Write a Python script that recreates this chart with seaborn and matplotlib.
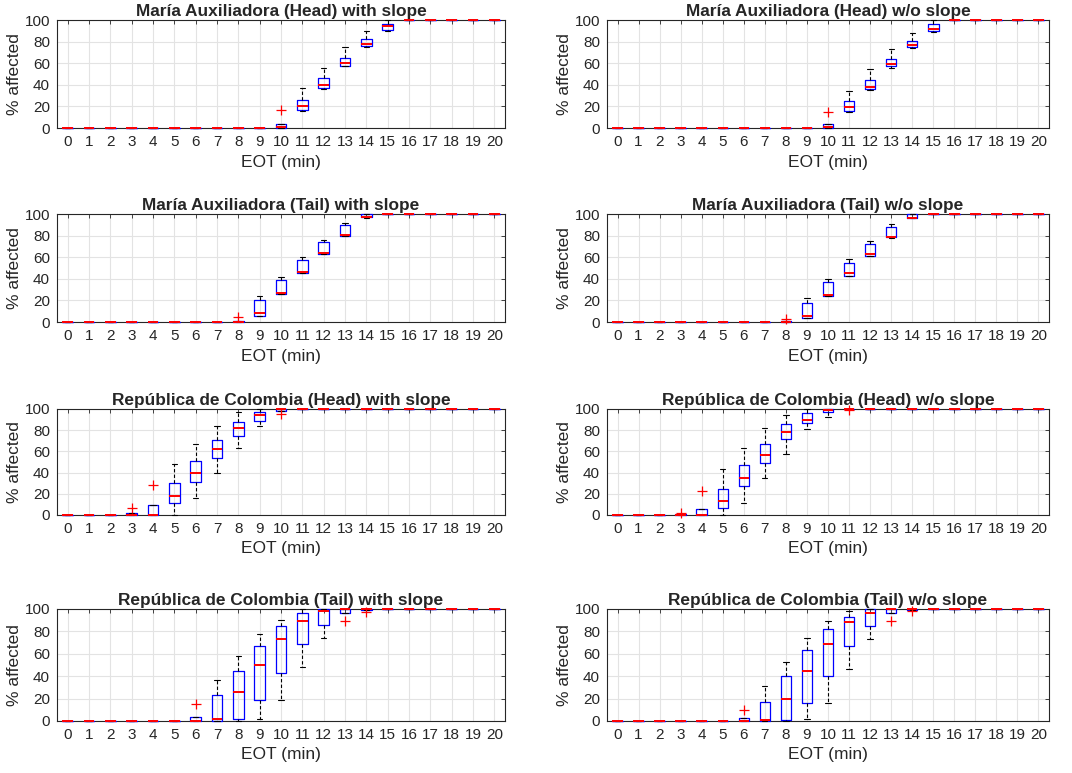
import numpy as np
import pandas as pd
import seaborn as sns
import matplotlib
matplotlib.use('Agg')
import matplotlib.pyplot as plt

# EOT in Minuten (Kategorien der x-Achse)
eot = list(range(21))

# Boxplot-Kennwerte je Panel: unterer Whisker, Q1, Median, Q3, oberer Whisker
# María Auxiliadora (Head) with slope
mah_s_lo  = [0,0,0,0,0,0,0,0,0,0, 0,16,36,57,75,90, 100,100,100,100,100]
mah_s_q1  = [0,0,0,0,0,0,0,0,0,0, 0,17,37,57,76,91, 100,100,100,100,100]
mah_s_med = [0,0,0,0,0,0,0,0,0,0, 1,20,40,60,78,94, 100,100,100,100,100]
mah_s_q3  = [0,0,0,0,0,0,0,0,0,0, 4,26,46,65,82,96, 100,100,100,100,100]
mah_s_hi  = [0,0,0,0,0,0,0,0,0,0, 4,37,56,75,90,100, 100,100,100,100,100]
mah_s_out = [(10, 17)]

# María Auxiliadora (Head) w/o slope
mah_n_lo  = [0,0,0,0,0,0,0,0,0,0, 0,15,35,56,74,89, 100,100,100,100,100]
mah_n_q1  = [0,0,0,0,0,0,0,0,0,0, 0,16,36,57,75,90, 100,100,100,100,100]
mah_n_med = [0,0,0,0,0,0,0,0,0,0, 1,19,38,59,77,92, 100,100,100,100,100]
mah_n_q3  = [0,0,0,0,0,0,0,0,0,0, 4,25,44,64,81,96, 100,100,100,100,100]
mah_n_hi  = [0,0,0,0,0,0,0,0,0,0, 4,34,55,73,88,100, 100,100,100,100,100]
mah_n_out = [(10, 15)]

# María Auxiliadora (Tail) with slope
mat_s_lo  = [0,0,0,0,0,0,0,0, 0,6,26,45,63,80,96, 100,100,100,100,100,100]
mat_s_q1  = [0,0,0,0,0,0,0,0, 0,6,26,45,63,80,97, 100,100,100,100,100,100]
mat_s_med = [0,0,0,0,0,0,0,0, 0,8,27,46,64,81,97, 100,100,100,100,100,100]
mat_s_q3  = [0,0,0,0,0,0,0,0, 1,20,39,57,74,90,100, 100,100,100,100,100,100]
mat_s_hi  = [0,0,0,0,0,0,0,0, 1,24,42,60,76,92,100, 100,100,100,100,100,100]
mat_s_out = [(8, 5)]

# María Auxiliadora (Tail) w/o slope
mat_n_lo  = [0,0,0,0,0,0,0,0, 0,4,24,43,61,78,96, 100,100,100,100,100,100]
mat_n_q1  = [0,0,0,0,0,0,0,0, 0,4,24,43,61,79,96, 100,100,100,100,100,100]
mat_n_med = [0,0,0,0,0,0,0,0, 0,6,25,45,63,79,96, 100,100,100,100,100,100]
mat_n_q3  = [0,0,0,0,0,0,0,0, 1,18,37,55,72,88,100, 100,100,100,100,100,100]
mat_n_hi  = [0,0,0,0,0,0,0,0, 1,22,40,58,75,91,100, 100,100,100,100,100,100]
mat_n_out = [(8, 3)]

# República de Colombia (Head) with slope
rch_s_lo  = [0,0,0, 0,0,0,16,40,63,84,98, 100,100,100,100,100,100,100,100,100,100]
rch_s_q1  = [0,0,0, 0,0,11,31,54,75,89,98, 100,100,100,100,100,100,100,100,100,100]
rch_s_med = [0,0,0, 0,0,18,40,62,82,94,100, 100,100,100,100,100,100,100,100,100,100]
rch_s_q3  = [0,0,0, 2,9,30,51,71,88,97,100, 100,100,100,100,100,100,100,100,100,100]
rch_s_hi  = [0,0,0, 2,9,48,67,84,97,100,100, 100,100,100,100,100,100,100,100,100,100]
rch_s_out = [(3, 7), (4, 28), (10, 95)]

# República de Colombia (Head) w/o slope
rch_n_lo  = [0,0,0, 0,0,0,11,35,58,81,92, 100,100,100,100,100,100,100,100,100,100]
rch_n_q1  = [0,0,0, 0,0,7,27,49,72,87,97, 100,100,100,100,100,100,100,100,100,100]
rch_n_med = [0,0,0, 0,0,13,35,57,78,90,99, 100,100,100,100,100,100,100,100,100,100]
rch_n_q3  = [0,0,0, 1,6,25,47,67,86,96,100, 100,100,100,100,100,100,100,100,100,100]
rch_n_hi  = [0,0,0, 1,6,43,63,82,94,100,100, 100,100,100,100,100,100,100,100,100,100]
rch_n_out = [(3, 1.5), (4, 23), (11, 99)]

# República de Colombia (Tail) with slope
rct_s_lo  = [0,0,0,0,0,0, 0,0,0,2,19,48,74,96,99, 100,100,100,100,100,100]
rct_s_q1  = [0,0,0,0,0,0, 0,0,2,19,43,69,86,96,99, 100,100,100,100,100,100]
rct_s_med = [0,0,0,0,0,0, 0,2,26,50,73,89,98,100,100, 100,100,100,100,100,100]
rct_s_q3  = [0,0,0,0,0,0, 4,23,45,67,85,96,100,100,100, 100,100,100,100,100,100]
rct_s_hi  = [0,0,0,0,0,0, 4,37,58,78,90,100,100,100,100, 100,100,100,100,100,100]
rct_s_out = [(6, 15), (13, 89), (14, 97.5)]

# República de Colombia (Tail) w/o slope
rct_n_lo  = [0,0,0,0,0,0, 0,0,0,2,16,46,73,96,99, 100,100,100,100,100,100]
rct_n_q1  = [0,0,0,0,0,0, 0,0,1,16,40,67,85,96,99, 100,100,100,100,100,100]
rct_n_med = [0,0,0,0,0,0, 0,1,20,45,69,88,96,100,100, 100,100,100,100,100,100]
rct_n_q3  = [0,0,0,0,0,0, 3,17,40,63,82,93,100,100,100, 100,100,100,100,100,100]
rct_n_hi  = [0,0,0,0,0,0, 3,31,53,74,89,98,100,100,100, 100,100,100,100,100,100]
rct_n_out = [(6, 10), (13, 89), (14, 98)]

titles = [
    'María Auxiliadora (Head) with slope', 'María Auxiliadora (Head) w/o slope',
    'María Auxiliadora (Tail) with slope', 'María Auxiliadora (Tail) w/o slope',
    'República de Colombia (Head) with slope', 'República de Colombia (Head) w/o slope',
    'República de Colombia (Tail) with slope', 'República de Colombia (Tail) w/o slope',
]

panels = [
    (mah_s_lo, mah_s_q1, mah_s_med, mah_s_q3, mah_s_hi, mah_s_out),
    (mah_n_lo, mah_n_q1, mah_n_med, mah_n_q3, mah_n_hi, mah_n_out),
    (mat_s_lo, mat_s_q1, mat_s_med, mat_s_q3, mat_s_hi, mat_s_out),
    (mat_n_lo, mat_n_q1, mat_n_med, mat_n_q3, mat_n_hi, mat_n_out),
    (rch_s_lo, rch_s_q1, rch_s_med, rch_s_q3, rch_s_hi, rch_s_out),
    (rch_n_lo, rch_n_q1, rch_n_med, rch_n_q3, rch_n_hi, rch_n_out),
    (rct_s_lo, rct_s_q1, rct_s_med, rct_s_q3, rct_s_hi, rct_s_out),
    (rct_n_lo, rct_n_q1, rct_n_med, rct_n_q3, rct_n_hi, rct_n_out),
]

sns.set_style('white')
plt.rcParams['font.family'] = ['Liberation Sans', 'DejaVu Sans']
plt.rcParams['text.color'] = '#262626'
plt.rcParams['axes.labelcolor'] = '#262626'
plt.rcParams['xtick.color'] = '#262626'
plt.rcParams['ytick.color'] = '#262626'

W, H = 1072, 773
fig = plt.figure(figsize=(W / 100, H / 100), dpi=100)

# Achsenpositionen in Pixeln (links, oben, rechts, unten)
col_x = [(57, 505), (607, 1049)]
row_y = [(20, 128), (214, 322), (409, 515), (609, 721)]

for i, (lo, q1, med, q3, hi, out) in enumerate(panels):
    r, c = divmod(i, 2)
    x0, x1 = col_x[c]
    y0, y1 = row_y[r]
    ax = fig.add_axes([x0 / W, 1 - y1 / H, (x1 - x0) / W, (y1 - y0) / H])

    df = pd.DataFrame({
        'eot': np.repeat(eot, 5),
        'value': np.column_stack([lo, q1, med, q3, hi]).ravel(),
    })

    sns.boxplot(
        data=df, x='eot', y='value', order=eot, ax=ax,
        width=0.5, whis=(0, 100), fill=False, color='blue', linewidth=0.9,
        showfliers=False,
        medianprops=dict(color='red', linewidth=1.4),
        whiskerprops=dict(color='black', linestyle=(0, (3, 2)), linewidth=0.8),
        capprops=dict(color='black', linewidth=0.8),
    )

    # Linien über den Rahmen legen (wie in MATLAB), Median ganz oben
    for ln in ax.lines:
        ln.set_clip_on(False)
        ln.set_zorder(5 if ln.get_color() == 'red' else 4)

    # Ausreißer als rote Kreuze
    for x_out, y_out in out:
        ax.plot([eot.index(x_out)], [y_out], linestyle='none', marker='+',
                markersize=7.5, markeredgewidth=0.9, color='#ff0000',
                zorder=6, clip_on=False)

    ax.set_xlim(-0.5, 20.5)
    ax.set_ylim(0, 100)
    ax.set_yticks([0, 20, 40, 60, 80, 100])
    ax.set_xticks(range(21))
    ax.set_xticklabels([str(e) for e in eot])
    ax.set_axisbelow(True)
    ax.grid(True, color='#e3e3e3', linewidth=0.8)
    for s in ax.spines.values():
        s.set_color('#262626')
        s.set_linewidth(0.8)
    ax.tick_params(direction='in', top=True, right=True, length=3, width=0.6,
                   labelsize=11, pad=5)
    ax.set_xlabel('EOT (min)', fontsize=12.5, labelpad=4)
    ax.set_ylabel('% affected', fontsize=12.5, labelpad=2)
    ax.set_title(titles[i], fontsize=12.4, fontweight='bold', pad=3)

fig.savefig('out.png', dpi=100)
